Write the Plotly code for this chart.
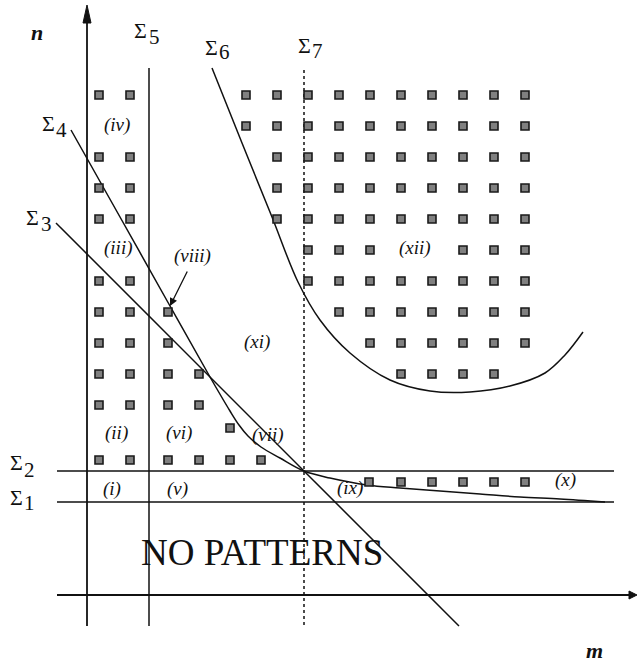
import plotly.graph_objects as go

# ---- lattice points (m, n) where patterns exist, listed row by row ----
rows_n = [95, 126, 157, 188, 219, 250, 281, 312, 343, 374, 405, 428, 460, 482]
rows_m = [
    [99, 130, 246, 277, 308, 339, 370, 401, 432, 463, 494, 525],
    [246, 277, 308, 339, 370, 401, 432, 463, 494, 525],
    [99, 130, 277, 308, 339, 370, 401, 432, 463, 494, 525],
    [99, 130, 277, 308, 339, 370, 401, 432, 463, 494, 525],
    [99, 130, 277, 308, 339, 370, 401, 432, 463, 494, 525],
    [308, 339, 370, 463, 494, 525],
    [99, 130, 308, 339, 370, 401, 432, 463, 494, 525],
    [99, 130, 168, 339, 370, 401, 432, 463, 494, 525],
    [99, 130, 168, 370, 401, 432, 463, 494, 525],
    [99, 130, 168, 199, 401, 432, 463, 494],
    [99, 130, 168, 199],
    [230],
    [99, 130, 168, 199, 230, 261],
    [369, 401, 432, 463, 494, 525],
]

# ---- boundary curves ----
axis_n_x = [87, 87]
axis_n_y = [626, 20]
axis_m_x = [57, 630]
axis_m_y = [595, 595]

sigma1_x, sigma1_y = [57, 614], [502, 502]
sigma2_x, sigma2_y = [57, 614], [471, 471]
sigma3_x, sigma3_y = [56, 459], [223, 626]
sigma4_x = [71, 120, 170, 210, 230, 239, 248, 261, 280, 304, 330, 367, 400, 440, 480, 520, 560, 605]
sigma4_y = [130, 217, 306, 377, 411, 425, 436, 447, 458, 471, 478, 485, 488, 491, 494, 497, 499, 502]
sigma5_x, sigma5_y = [149, 149], [68, 626]
sigma6_x = [212, 242, 272, 298, 320, 350, 390, 430, 470, 510, 545, 565, 583]
sigma6_y = [68, 143, 217, 282, 320, 353, 380, 391, 392, 386, 373, 355, 332]
sigma7_x, sigma7_y = [304, 304], [70, 626]

# ---- text labels ----
region_labels = ["(iv)", "(iii)", "(viii)", "(xi)", "(xii)", "(ii)", "(vi)", "(vii)",
                 "(i)", "(v)", "(ix)", "(x)"]
region_m = [117, 118, 192, 257, 415, 116, 179, 268, 112, 177, 350, 565]
region_n = [125, 248, 256, 342, 248, 433, 433, 435, 489, 489, 488, 480]

sigma_digits = ["1", "2", "3", "4", "5", "6", "7"]
sigma_m = [16, 16, 32, 48, 140, 211, 304]
sigma_n = [497, 462, 217, 123, 30, 47, 45]
digit_m = [29, 29, 46, 61, 154, 224, 317]
digit_n = [503, 470, 224, 130, 37, 52, 51]

SERIF = "Liberation Serif, Times New Roman, serif"
INK = "#111111"

fig = go.Figure()

def add_line(xs, ys, dash="solid", shape="linear", width=1.5):
    fig.add_trace(go.Scatter(
        x=xs, y=ys, mode="lines",
        line=dict(color=INK, width=width, dash=dash, shape=shape, smoothing=1.0),
        hoverinfo="skip", showlegend=False))

# axes of the (m, n) plane
add_line(axis_n_x, axis_n_y, width=1.8)
add_line(axis_m_x, axis_m_y, width=1.8)

# arrowheads at the ends of both axes
tip_n = (axis_n_x[1], 5)
fig.add_trace(go.Scatter(
    x=[tip_n[0], tip_n[0] - 4, tip_n[0] + 4, tip_n[0]],
    y=[tip_n[1], axis_n_y[1] + 3, axis_n_y[1] + 3, tip_n[1]],
    mode="lines", fill="toself", fillcolor=INK, line=dict(color=INK, width=1),
    hoverinfo="skip", showlegend=False))
tip_m = (637, axis_m_y[1])
fig.add_trace(go.Scatter(
    x=[tip_m[0], axis_m_x[1] - 1, axis_m_x[1] - 1, tip_m[0]],
    y=[tip_m[1], tip_m[1] - 4, tip_m[1] + 4, tip_m[1]],
    mode="lines", fill="toself", fillcolor=INK, line=dict(color=INK, width=1),
    hoverinfo="skip", showlegend=False))

# boundaries Sigma_1 ... Sigma_7
add_line(sigma1_x, sigma1_y)
add_line(sigma2_x, sigma2_y)
add_line(sigma3_x, sigma3_y)
add_line(sigma4_x, sigma4_y, shape="spline")
add_line(sigma5_x, sigma5_y)
add_line(sigma6_x, sigma6_y, shape="spline")
add_line(sigma7_x, sigma7_y, dash="dot")

# lattice points with patterns
pts_m, pts_n = [], []
for n, ms in zip(rows_n, rows_m):
    pts_m.extend(ms)
    pts_n.extend([n] * len(ms))
fig.add_trace(go.Scatter(
    x=pts_m, y=pts_n, mode="markers",
    marker=dict(symbol="square", size=8, color="#808080",
                line=dict(color="#1a1a1a", width=1.6)),
    hoverinfo="skip", showlegend=False))

annotations = []
for t, x, y in zip(region_labels, region_m, region_n):
    annotations.append(dict(x=x, y=y, text=f"<i>{t}</i>", showarrow=False,
                            font=dict(family=SERIF, size=19, color=INK),
                            xanchor="center", yanchor="middle"))
for d, x, y, dx, dy in zip(sigma_digits, sigma_m, sigma_n, digit_m, digit_n):
    annotations.append(dict(x=x, y=y, text="Σ", showarrow=False,
                            font=dict(family=SERIF, size=22, color=INK),
                            xanchor="center", yanchor="middle"))
    annotations.append(dict(x=dx, y=dy, text=d, showarrow=False,
                            font=dict(family=SERIF, size=21, color=INK),
                            xanchor="center", yanchor="middle"))

# pointer from the (viii) label to its single lattice point
annotations.append(dict(x=170, y=306, ax=188, ay=270, axref="x", ayref="y",
                        text="", showarrow=True, arrowhead=2, arrowsize=1.2,
                        arrowwidth=1.3, arrowcolor=INK))

annotations.append(dict(x=37, y=32, text="<b><i>n</i></b>", showarrow=False,
                        font=dict(family=SERIF, size=22, color=INK)))
annotations.append(dict(x=594, y=650, text="<b><i>m</i></b>", showarrow=False,
                        font=dict(family=SERIF, size=22, color=INK)))
annotations.append(dict(x=262, y=552, text="NO PATTERNS", showarrow=False,
                        font=dict(family=SERIF, size=37, color=INK)))

fig.update_layout(
    width=637, height=662,
    margin=dict(l=0, r=0, t=0, b=0),
    paper_bgcolor="white", plot_bgcolor="white",
    xaxis=dict(range=[0, 637], visible=False, fixedrange=True),
    yaxis=dict(range=[662, 0], visible=False, fixedrange=True),
    annotations=annotations,
    showlegend=False,
)

fig.write_html("out.html")
